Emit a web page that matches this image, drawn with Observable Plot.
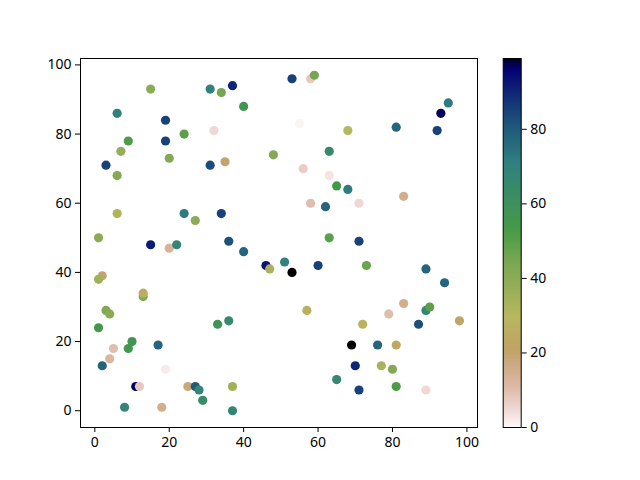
<!DOCTYPE html>
<html><head><meta charset="utf-8">
<script src="https://cdn.jsdelivr.net/npm/d3@7"></script>
<script src="https://cdn.jsdelivr.net/npm/@observablehq/plot@0.6"></script>
<style>
body{margin:0;background:#fff;}
#fig{position:relative;width:640px;height:480px;}
#fig svg{position:absolute;top:0;}
</style></head><body><div id="fig"></div>
<script>
// data (x, y, colour value)
const xs=[15,31,34,37,40,6,19,32,24,9,19,7,20,48,3,31,35,6,6,24,27,34,1,53,58,59,95,93,55,68,81,92,63,56,63,65,68,58,62,71,83,63,71,15,20,22,36,40,46,47,51,2,1,13,13,3,4,1,33,36,10,9,5,4,17,2,19,11,12,25,27,28,29,37,8,18,37,53,60,73,89,94,57,83,79,89,90,98,72,87,69,76,81,70,77,80,65,71,81,89];
const ys=[93,93,92,94,88,86,84,81,80,78,78,75,73,74,71,71,72,68,57,57,55,57,50,96,96,97,89,86,83,81,82,81,75,70,68,65,64,60,59,60,62,50,49,48,47,48,49,46,42,41,43,39,38,33,34,29,28,24,25,26,20,18,18,15,19,13,12,7,7,7,7,6,3,7,1,1,0,40,42,42,41,37,29,31,28,29,30,26,25,25,19,19,19,13,13,12,9,6,7,6];
const cs=[40,70,45,90,57,70,85,5,50,52,85,38,42,42,85,83,20,42,32,72,40,85,40,85,8,45,72,97,1,30,78,85,65,7,3,55,72,10,78,5,15,50,85,92,13,68,82,78,93,33,70,20,35,42,25,42,40,55,58,65,57,55,10,12,78,78,2,97,8,18,80,68,63,35,68,15,68,99,85,47,78,78,27,15,10,68,50,22,28,82,99,78,23,90,33,42,67,85,52,5];
const xTicks=[0,20,40,60,80,100];
const yTicks=[0,20,40,60,80,100];
const cTicks=[0,20,40,60,80];
const cMax=99;

// gist_earth colormap segments (reversed when used)
const seg={
 red:[[0,0],[0.2824,0.1882],[0.4588,0.2714],[0.5490,0.4719],[0.6980,0.7176],[0.7882,0.7553],[1,0.9922]],
 green:[[0,0],[0.0275,0],[0.1098,0.1893],[0.1647,0.3035],[0.2078,0.3841],[0.2824,0.5020],[0.5216,0.6397],[0.6980,0.7171],[0.7882,0.6392],[0.7922,0.6413],[0.8,0.6447],[0.8078,0.6481],[0.8157,0.6549],[0.8667,0.6991],[0.8745,0.7103],[0.8824,0.7216],[0.8902,0.7323],[0.8980,0.7430],[0.9412,0.8275],[0.9569,0.8635],[0.9647,0.8816],[0.9961,0.9733],[1,0.9843]],
 blue:[[0,0],[0.0039,0.1684],[0.0078,0.2212],[0.0275,0.4329],[0.0314,0.4549],[0.2824,0.5004],[0.4667,0.2748],[0.5451,0.3205],[0.7843,0.3961],[0.8941,0.6651],[1,0.9843]]
};
function chan(p,u){
  u=Math.max(0,Math.min(1,u));
  for(let i=1;i<p.length;i++){
    if(u<=p[i][0]){const a=p[i-1],b=p[i];return a[1]+(b[1]-a[1])*(u-a[0])/(b[0]-a[0]);}
  }
  return p[p.length-1][1];
}
const gistEarthR = t => { const u=1-t; return d3.rgb(255*chan(seg.red,u),255*chan(seg.green,u),255*chan(seg.blue,u)).formatHex(); };

const data=xs.map((x,i)=>({x,y:ys[i],c:cs[i]}));
const font={fontFamily:"'Noto Sans', sans-serif",fontSize:"14px",color:"black",background:"transparent",overflow:"visible"};

const main=Plot.plot({
  width:480,height:480,marginLeft:80,marginRight:3,marginTop:58,marginBottom:53,
  style:font,
  x:{domain:[-3.85,102.85],ticks:xTicks,tickSize:5,tickPadding:5,label:null,tickFormat:d=>String(d)},
  y:{domain:[-4.85,101.85],ticks:yTicks,tickSize:5,tickPadding:4,label:null,tickFormat:d=>String(d)},
  color:{type:"linear",domain:[0,cMax],interpolate:gistEarthR},
  marks:[
    Plot.dot(data,{x:"x",y:"y",fill:"c",r:4.6}),
    Plot.frame({stroke:"black"})
  ]
});
const cb=Plot.plot({
  width:100,height:480,marginLeft:12.7,marginRight:69.3,marginTop:58,marginBottom:53,
  style:font,
  x:{domain:[0,1],axis:null},
  y:{domain:[0,cMax],ticks:cTicks,axis:"right",tickSize:5,tickPadding:4,label:null,tickFormat:d=>String(d)},
  color:{type:"linear",domain:[0,cMax],interpolate:gistEarthR},
  marks:[
    Plot.raster({x1:0,x2:1,y1:0,y2:cMax,width:1,height:400,fill:(x,y)=>y,imageRendering:"auto"}),
    Plot.frame({stroke:"black"})
  ]
});
main.style.left="0px";
cb.style.left="490px";
document.getElementById("fig").append(main,cb);
</script></body></html>
